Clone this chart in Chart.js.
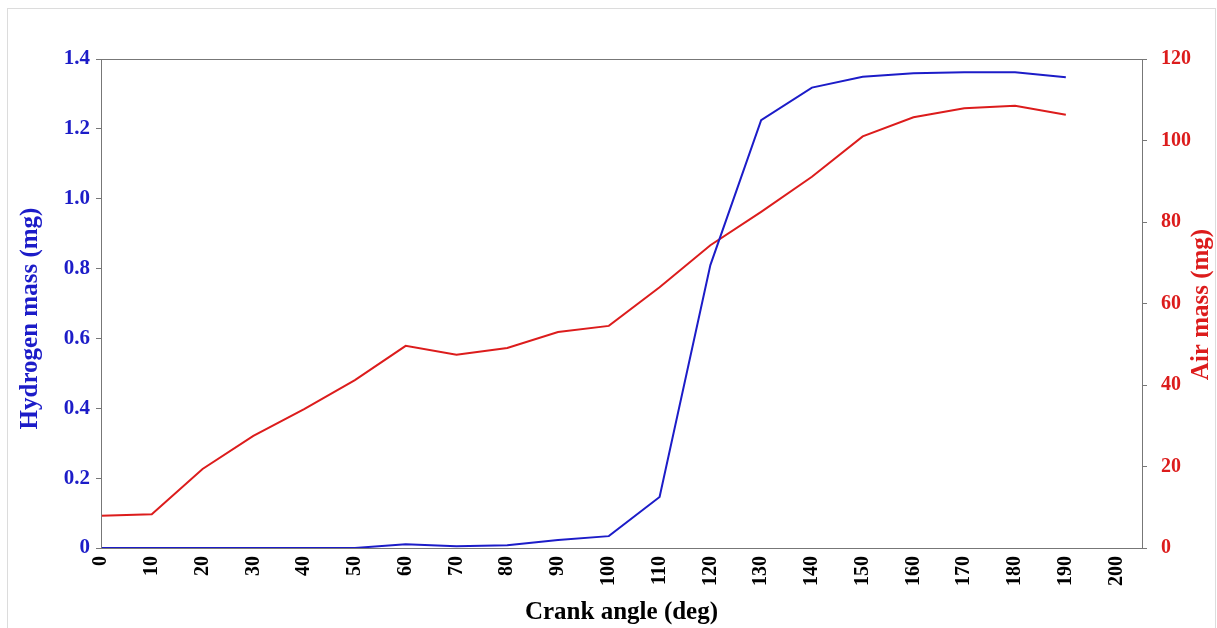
<!DOCTYPE html>
<html>
<head>
<meta charset="utf-8">
<script src="https://cdn.jsdelivr.net/npm/chart.js@4.4.1/dist/chart.umd.min.js"></script>
<style>
  html, body { margin: 0; padding: 0; background: #fff; }
  #frame { position: absolute; left: 7px; top: 8px; width: 1207px; height: 640px; border: 1px solid #dcdcdc; }
  #wrap { position: absolute; left: 0; top: 0; width: 1217px; height: 628px; }
</style>
</head>
<body>
<div id="frame"></div>
<div id="wrap"><canvas id="massChart"></canvas></div>
<script>
// crank angle samples (deg)
const crankAngle = [0, 10, 20, 30, 40, 50, 60, 70, 80, 90, 100, 110, 120, 130, 140, 150, 160, 170, 180, 190];
// hydrogen mass (mg), left axis
const hydrogenMass = [0, 0, 0, 0, 0, 0, 0.011, 0.005, 0.008, 0.023, 0.034, 0.146, 0.81, 1.225, 1.318, 1.349, 1.359, 1.362, 1.362, 1.348];
// air mass (mg), right axis
const airMass = [7.9, 8.3, 19.4, 27.5, 34.1, 41.2, 49.6, 47.4, 49.1, 53.0, 54.5, 64.0, 74.3, 82.5, 91.1, 101.0, 105.7, 107.9, 108.5, 106.3];
const xTicks = [0, 10, 20, 30, 40, 50, 60, 70, 80, 90, 100, 110, 120, 130, 140, 150, 160, 170, 180, 190, 200];

const blue = "#1c1cc8";
const red = "#dc1c1c";
const axisGrey = "#777";
const serif = "'Liberation Serif', 'Times New Roman', serif";
const titleFont = "bold 25px " + serif;

const toPoints = ys => crankAngle.map((x, i) => ({ x: x, y: ys[i] }));

function drawVerticalTitle(ctx, text, color, x, y) {
  ctx.save();
  ctx.translate(x, y);
  ctx.rotate(-Math.PI / 2);
  ctx.fillStyle = color;
  ctx.font = titleFont;
  ctx.textAlign = "center";
  ctx.textBaseline = "middle";
  ctx.fillText(text, 0, 0);
  ctx.restore();
}

// box around the plot area plus both y titles, read bottom-to-top
const framePlugin = {
  id: "framePlugin",
  afterDraw(chart) {
    const { ctx, chartArea } = chart;
    ctx.save();
    ctx.strokeStyle = axisGrey;
    ctx.lineWidth = 1;
    ctx.strokeRect(chartArea.left + 0.5, chartArea.top + 0.5,
      chartArea.right - chartArea.left, chartArea.bottom - chartArea.top);
    ctx.restore();

    const midY = (chartArea.top + chartArea.bottom) / 2;
    drawVerticalTitle(ctx, "Hydrogen mass (mg)", blue, chartArea.left - 70, midY + 15);
    drawVerticalTitle(ctx, "Air mass (mg)", red, chartArea.right + 60, midY + 1);
  }
};

new Chart(document.getElementById("massChart"), {
  type: "line",
  data: {
    datasets: [
      {
        label: "Hydrogen mass",
        data: toPoints(hydrogenMass),
        borderColor: blue,
        borderWidth: 2,
        pointRadius: 0,
        tension: 0,
        yAxisID: "y"
      },
      {
        label: "Air mass",
        data: toPoints(airMass),
        borderColor: red,
        borderWidth: 2,
        pointRadius: 0,
        tension: 0,
        yAxisID: "y1"
      }
    ]
  },
  options: {
    responsive: true,
    maintainAspectRatio: false,
    animation: false,
    layout: { padding: { top: 59, left: 0, right: 0, bottom: 0 } },
    plugins: {
      legend: { display: false },
      tooltip: { enabled: false }
    },
    scales: {
      x: {
        type: "linear",
        min: 0,
        max: 205,
        afterBuildTicks: s => { s.ticks = xTicks.map(v => ({ value: v })); },
        afterFit: s => { s.height = 80; },
        grid: { display: false, drawTicks: false },
        border: { display: true, color: axisGrey },
        ticks: {
          color: "#000",
          padding: 8,
          minRotation: 90,
          maxRotation: 90,
          font: { family: serif, size: 20, weight: "bold" }
        },
        title: {
          display: true,
          text: "Crank angle (deg)",
          color: "#000",
          padding: { top: 6, bottom: 0 },
          font: { family: serif, size: 25, weight: "bold" }
        }
      },
      y: {
        position: "left",
        min: 0,
        max: 1.4,
        afterFit: s => { s.width = 101; },
        grid: { drawOnChartArea: false, drawTicks: true, tickLength: 5, color: axisGrey },
        border: { display: true, color: axisGrey },
        ticks: {
          stepSize: 0.2,
          color: blue,
          padding: 6,
          callback: v => (v === 0 ? "0" : v.toFixed(1)),
          font: { family: serif, size: 21, weight: "bold" }
        }
      },
      y1: {
        position: "right",
        min: 0,
        max: 120,
        afterFit: s => { s.width = 75; },
        grid: { drawOnChartArea: false, drawTicks: true, tickLength: 5, color: axisGrey },
        border: { display: true, color: axisGrey },
        ticks: {
          stepSize: 20,
          color: red,
          padding: 14,
          font: { family: serif, size: 20, weight: "bold" }
        }
      }
    }
  },
  plugins: [framePlugin]
});
</script>
</body>
</html>
